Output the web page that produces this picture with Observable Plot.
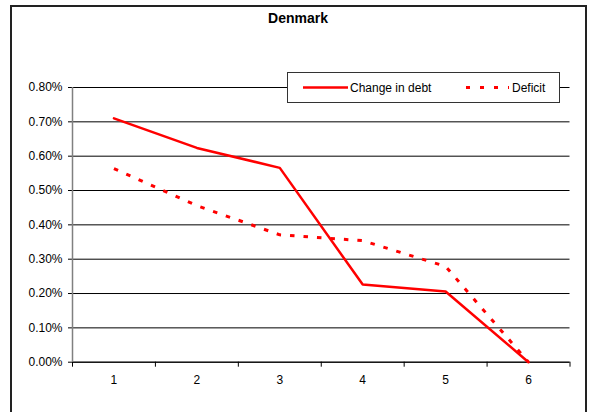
<!DOCTYPE html>
<html><head><meta charset="utf-8">
<script src="https://cdn.jsdelivr.net/npm/d3@7"></script>
<script src="https://cdn.jsdelivr.net/npm/@observablehq/plot@0.6"></script>
<style>
body{margin:0;background:#fff;font-family:"Liberation Sans",Arial,sans-serif;}
#wrap{position:relative;width:596px;height:412px;overflow:hidden;background:#fff;}
#wrap > svg.plot{position:absolute;left:0;top:0;}
#frame{position:absolute;left:10px;top:5px;width:577px;height:440px;border:2px solid #222;box-sizing:border-box;pointer-events:none;}
#title{position:absolute;left:0;top:11px;width:596px;text-align:center;font-weight:bold;font-size:14px;line-height:14px;color:#000;}
#legend{position:absolute;left:287px;top:72px;}
</style></head><body>
<div id="wrap"><div id="frame"></div><div id="title">Denmark</div></div>
<script>
const periods = [1, 2, 3, 4, 5, 6];
const changeInDebt = [0.0071, 0.00624, 0.00566, 0.00226, 0.00206, 0.0];
const deficit = [0.00564, 0.00456, 0.00371, 0.00354, 0.00279, 0.0];
const yTicks = [0, 0.001, 0.002, 0.003, 0.004, 0.005, 0.006, 0.007, 0.008];
const seriesNames = ["Change in debt", "Deficit"];

const rows = periods.map((p, i) => ({p, debt: changeInDebt[i], deficit: deficit[i]}));
const bandEdges = periods.map(p => p - 0.5).concat([periods[periods.length - 1] + 0.5]);

const chart = Plot.plot({
  width: 596, height: 412,
  marginLeft: 72, marginRight: 26.5, marginTop: 87, marginBottom: 50.3,
  style: {fontFamily: "'Liberation Sans', Arial, sans-serif", fontSize: "12px", color: "#000", background: "transparent", overflow: "visible"},
  x: {type: "linear", domain: [bandEdges[0], bandEdges[bandEdges.length - 1]]},
  y: {domain: [0, 0.008]},
  marks: [
    Plot.gridY(yTicks, {stroke: "#000", strokeOpacity: 1}),
    Plot.axisY(yTicks, {tickFormat: d3.format(".2%"), tickSize: 4, tickPadding: 6, stroke: "#000", label: null}),
    Plot.axisX(bandEdges, {tickSize: 5, tickFormat: () => "", stroke: "#000", label: null}),
    Plot.axisX(periods, {tickSize: 0, tickPadding: 13, tickFormat: d => String(d), label: null}),
    Plot.ruleY([0], {stroke: "#000"}),
    Plot.ruleX([bandEdges[0]], {stroke: "#808080", strokeWidth: 1.5}),
    Plot.line(rows, {x: "p", y: "debt", stroke: "#ff0000", strokeWidth: 2.5}),
    Plot.line(rows, {x: "p", y: "deficit", stroke: "#ff0000", strokeWidth: 3, strokeDasharray: "4.5,9", strokeLinecap: "butt"})
  ]
});
chart.classList.add("plot");
const wrap = document.getElementById("wrap");
wrap.insertBefore(chart, wrap.firstChild);

// legend
const ns = "http://www.w3.org/2000/svg";
const lg = document.createElementNS(ns, "svg");
lg.setAttribute("id", "legend");
lg.setAttribute("width", 274);
lg.setAttribute("height", 32);
lg.innerHTML = `
  <rect x="0.5" y="0.5" width="272" height="30" fill="#fff" stroke="#333" stroke-width="1"/>
  <line x1="16" x2="61" y1="15.5" y2="15.5" stroke="#ff0000" stroke-width="2.5"/>
  <text x="63" y="19.8" font-family="'Liberation Sans', Arial, sans-serif" font-size="12" fill="#000">${seriesNames[0]}</text>
  <line x1="179" x2="222" y1="15.5" y2="15.5" stroke="#ff0000" stroke-width="3" stroke-dasharray="4,10"/>
  <text x="225" y="19.8" font-family="'Liberation Sans', Arial, sans-serif" font-size="12" fill="#000">${seriesNames[1]}</text>`;
wrap.appendChild(lg);
</script>
</body></html>
